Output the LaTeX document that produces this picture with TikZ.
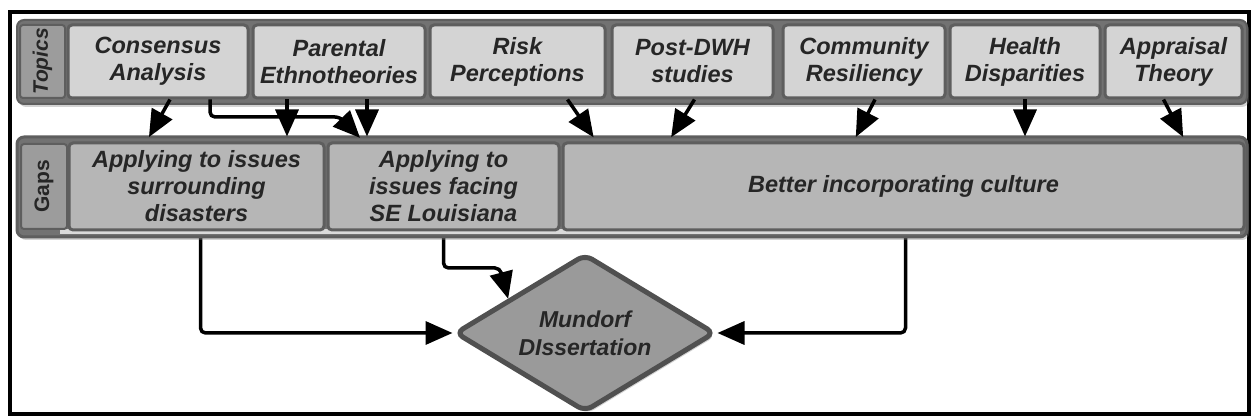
\documentclass[tikz,border=0pt]{standalone}
\usepackage{fontspec}
\setmainfont{Liberation Sans}
\usepackage{tikz}
\usetikzlibrary{arrows.meta, shapes.geometric, shadows, calc, backgrounds}

\definecolor{bandgray}{HTML}{727272}
\definecolor{edgegray}{HTML}{5E5E5E}
\definecolor{stripgray}{HTML}{DADADA}
\definecolor{topicfill}{HTML}{D4D4D4}
\definecolor{gapfill}{HTML}{B6B6B6}
\definecolor{cellfill}{HTML}{9C9C9C}
\definecolor{diafill}{HTML}{9A9A9A}
\definecolor{inkgray}{HTML}{262626}

\tikzset{
  topicbox/.style={draw=edgegray, line width=3pt, fill=topicfill, rounded corners=4pt,
    minimum height=73pt, inner sep=0pt, align=center, text=inkgray,
    font=\fontsize{23.5}{27}\selectfont\bfseries\itshape},
  gapbox/.style={topicbox, fill=gapfill, minimum height=87pt},
  cellbox/.style={draw=edgegray, line width=2pt, fill=cellfill, rounded corners=3pt,
    inner sep=0pt, rotate=90, text=inkgray, font=\fontsize{21}{24}\selectfont\bfseries},
  conn/.style={draw=black, line width=3.5pt, rounded corners=5pt,
    -{Triangle[length=27pt,width=23pt]}},
  softshadow/.style={drop shadow={shadow xshift=2pt, shadow yshift=-3pt, opacity=0.35}},
}

\begin{document}
\begin{tikzpicture}[x=1pt, y=-1pt]
\useasboundingbox (0,0) rectangle (1254,419);
\draw[line width=4pt] (10,12) rectangle (1249,414);

% Topics row
\path[draw=edgegray, line width=2pt, fill=bandgray, rounded corners=7pt, softshadow] (17,20) rectangle (1247,104);
\node[cellbox, minimum width=73pt, minimum height=45pt, font=\fontsize{21}{24}\selectfont\bfseries\itshape] (topics) at (42.5,61.5) {Topics};
\node[topicbox, minimum width=180pt] (cons) at (158,61.5) {Consensus\\Analysis};
\node[topicbox, minimum width=172pt] (par) at (339,61.5) {Parental\\Ethnotheories};
\node[topicbox, minimum width=175pt] (risk) at (517.5,61.5) {Risk\\Perceptions};
\node[topicbox, minimum width=161pt] (post) at (692.5,61.5) {Post-DWH\\studies};
\node[topicbox, minimum width=162pt] (comm) at (864,61.5) {Community\\Resiliency};
\node[topicbox, minimum width=150pt] (hlth) at (1025,61.5) {Health\\Disparities};
\node[topicbox, minimum width=137pt] (appr) at (1173.5,61.5) {Appraisal\\Theory};

% Gaps row
\path[draw=edgegray, line width=3pt, fill=bandgray, rounded corners=7pt, softshadow] (17,137) rectangle (1247,237);
\fill[stripgray] (60,229) rectangle (1240,234);
\node[cellbox, minimum width=85pt, minimum height=46pt] (gaps) at (44,186.5) {Gaps};
\node[gapbox, minimum width=255pt] (gapdis) at (196.5,186.5) {Applying to issues\\surrounding\\disasters};
\node[gapbox, minimum width=231pt] (gapse) at (443.5,186.5) {Applying to\\issues facing\\SE Louisiana};
\node[gapbox, minimum width=681pt] (gapcul) at (903.5,186.5) {Better incorporating culture};

% Dissertation
\node[diamond, draw=edgegray!85!black, line width=5pt, fill=diafill, shape aspect=1.65,
  minimum width=260pt, minimum height=158pt, inner sep=0pt, rounded corners=8pt, softshadow,
  align=center, text=black!85, font=\fontsize{23}{28}\selectfont\bfseries\itshape] (diss) at (585,333) {Mundorf\\DIssertation};

% topics -> gaps
\coordinate (elbow) at (340,117);
\draw[conn, shorten >=5pt] ([xshift=12pt]cons.south) -- ([xshift=-50pt]gapdis.north);
\draw[conn, shorten >=5pt] ([xshift=52pt]cons.south) |- (elbow) -- ([xshift=-80pt]gapse.north);
\draw[conn, shorten >=5pt] ([xshift=-52pt]par.south) -- ([xshift=-52pt]par.south |- gapdis.north);
\draw[conn, shorten >=5pt] ([xshift=28pt]par.south) -- ([xshift=28pt]par.south |- gapse.north);
\draw[conn, shorten >=5pt] ([xshift=50pt]risk.south) -- ([xshift=-307pt]gapcul.north);
\draw[conn, shorten >=5pt] ([xshift=2pt]post.south) -- ([xshift=-235pt]gapcul.north);
\draw[conn, shorten >=5pt] ([xshift=11pt]comm.south) -- ([xshift=-50pt]gapcul.north);
\draw[conn, shorten >=5pt] (hlth.south) -- (hlth.south |- gapcul.north);
\draw[conn, shorten >=5pt] ([xshift=-10pt]appr.south) -- ([xshift=282pt]gapcul.north);

% gaps -> dissertation
\begin{pgfonlayer}{background}
\coordinate (bend) at (500,268);
\draw[conn] ([xshift=4pt]gapdis.south) |- (diss.west);
\draw[conn] (gapse.south) |- (bend) -- ($(diss.north)!0.58!(diss.west)$);
\draw[conn] ([xshift=2pt]gapcul.south) |- (diss.east);
\end{pgfonlayer}
\end{tikzpicture}
\end{document}
